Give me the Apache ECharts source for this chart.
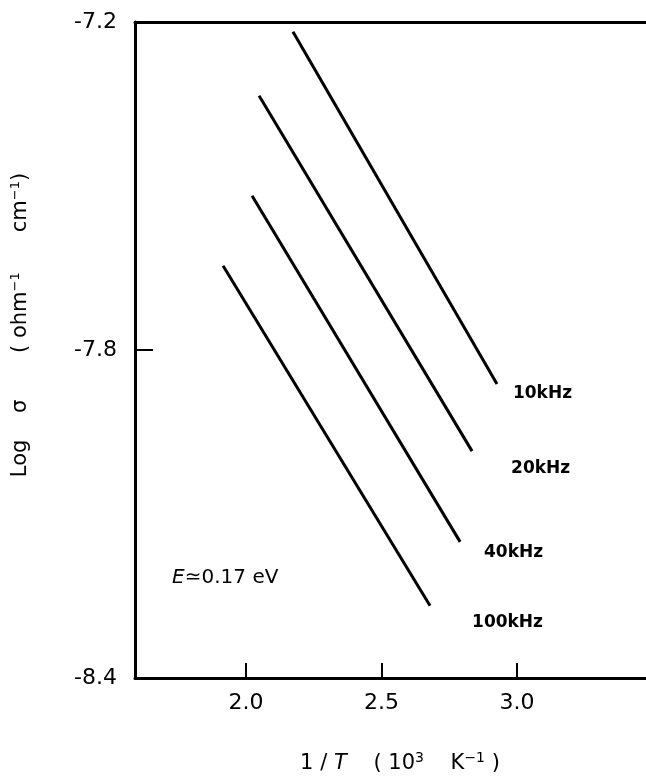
<!DOCTYPE html>
<html>
<head>
<meta charset="utf-8">
<style>html,body{margin:0;padding:0;background:#fff;}#c{width:646px;height:778px;}</style>
<script src="https://cdn.jsdelivr.net/npm/echarts@6/dist/echarts.min.js"></script>
</head>
<body>
<div id="c"></div>
<script>
// Data
const freqLabels = ['10kHz', '20kHz', '40kHz', '100kHz'];
const invTStart = [2.173, 2.048, 2.022, 1.915];
const invTEnd = [2.926, 2.834, 2.790, 2.679];
const logSigmaStart = [-7.218, -7.335, -7.518, -7.646];
const logSigmaEnd = [-7.862, -7.985, -8.151, -8.268];
// annotation anchors (data coordinates) for the frequency labels
const labelInvT = [2.985, 2.978, 2.878, 2.834];
const labelLogSigma = [-7.879, -8.016, -8.171, -8.299];
const xTicks = [2.0, 2.5, 3.0];
const yTicks = [-7.2, -7.8, -8.4];
const energyNote = { x: 1.727, y: -8.217 };

const FONT = 'DejaVu Sans';
const INK = '#000';

const lineSeries = freqLabels.map((f, i) => ({
  type: 'line',
  name: f,
  data: [[invTStart[i], logSigmaStart[i]], [invTEnd[i], logSigmaEnd[i]]],
  showSymbol: false,
  symbol: 'none',
  lineStyle: { color: INK, width: 3 },
  silent: true
}));

const labelSeries = {
  type: 'scatter',
  symbolSize: 0,
  itemStyle: { opacity: 1, color: INK },
  data: freqLabels.map((f, i) => ({ value: [labelInvT[i], labelLogSigma[i]], name: f })),
  label: {
    show: true,
    position: 'right',
    distance: 0,
    formatter: p => p.name,
    fontFamily: FONT,
    fontSize: 17,
    fontWeight: 'bold',
    color: INK
  },
  silent: true
};

const noteSeries = {
  type: 'scatter',
  symbolSize: 0,
  itemStyle: { opacity: 1, color: INK },
  data: [{ value: [energyNote.x, energyNote.y] }],
  label: {
    show: true,
    position: 'right',
    distance: 0,
    formatter: '{e|E}{n|≃0.17 eV}',
    rich: {
      e: { fontFamily: FONT, fontStyle: 'italic', fontSize: 20, color: INK },
      n: { fontFamily: FONT, fontSize: 20, color: INK }
    }
  },
  silent: true
};

const chart = echarts.init(document.getElementById('c'), null, { renderer: 'canvas' });
chart.setOption({
  animation: false,
  backgroundColor: '#fff',
  grid: { left: 135, right: 0, top: 22, bottom: 100, containLabel: false },
  xAxis: [{
    type: 'value',
    min: 1.59,
    max: 3.476,
    position: 'bottom',
    splitLine: { show: false },
    axisLine: { show: true, onZero: false, lineStyle: { color: INK, width: 3 } },
    axisTick: { show: true, inside: true, length: 15, customValues: xTicks, lineStyle: { color: INK, width: 2 } },
    axisLabel: {
      customValues: xTicks,
      formatter: v => v.toFixed(1),
      fontFamily: FONT, fontSize: 22, color: INK, margin: 14
    }
  }, {
    type: 'value',
    min: 1.59,
    max: 3.476,
    position: 'top',
    splitLine: { show: false },
    axisLine: { show: true, onZero: false, lineStyle: { color: INK, width: 3 } },
    axisTick: { show: false },
    axisLabel: { show: false }
  }],
  yAxis: {
    type: 'value',
    min: -8.4,
    max: -7.2,
    interval: 0.6,
    splitLine: { show: false },
    axisLine: { show: true, onZero: false, lineStyle: { color: INK, width: 3 } },
    axisTick: { show: true, inside: true, length: 18, lineStyle: { color: INK, width: 2 } },
    axisLabel: {
      formatter: v => v.toFixed(1),
      fontFamily: FONT, fontSize: 22, color: INK, margin: 18
    }
  },
  graphic: [{
    type: 'text',
    x: 21, y: 325,
    rotation: Math.PI / 2,
    style: {
      text: '{a|Log    σ       ( ohm}{s|−1}{a|      cm}{s|−1}{a|)}',
      rich: {
        a: { fontFamily: FONT, fontSize: 21, fill: INK },
        s: { fontFamily: FONT, fontSize: 13, fill: INK, verticalAlign: 'top', padding: [0, 0, 10, 0] }
      },
      align: 'center',
      verticalAlign: 'middle'
    },
    silent: true
  }, {
    type: 'text',
    x: 400, y: 764,
    style: {
      text: '{a|1 / }{i|T}{a|    ( 10}{s|3}{a|    K}{s|−1}{a| )}',
      rich: {
        a: { fontFamily: FONT, fontSize: 21, fill: INK },
        i: { fontFamily: FONT, fontStyle: 'italic', fontSize: 21, fill: INK },
        s: { fontFamily: FONT, fontSize: 14, fill: INK, verticalAlign: 'top', padding: [0, 0, 11, 0] }
      },
      align: 'center',
      verticalAlign: 'middle'
    },
    silent: true
  }],
  series: [...lineSeries, labelSeries, noteSeries]
});
</script>
</body>
</html>
